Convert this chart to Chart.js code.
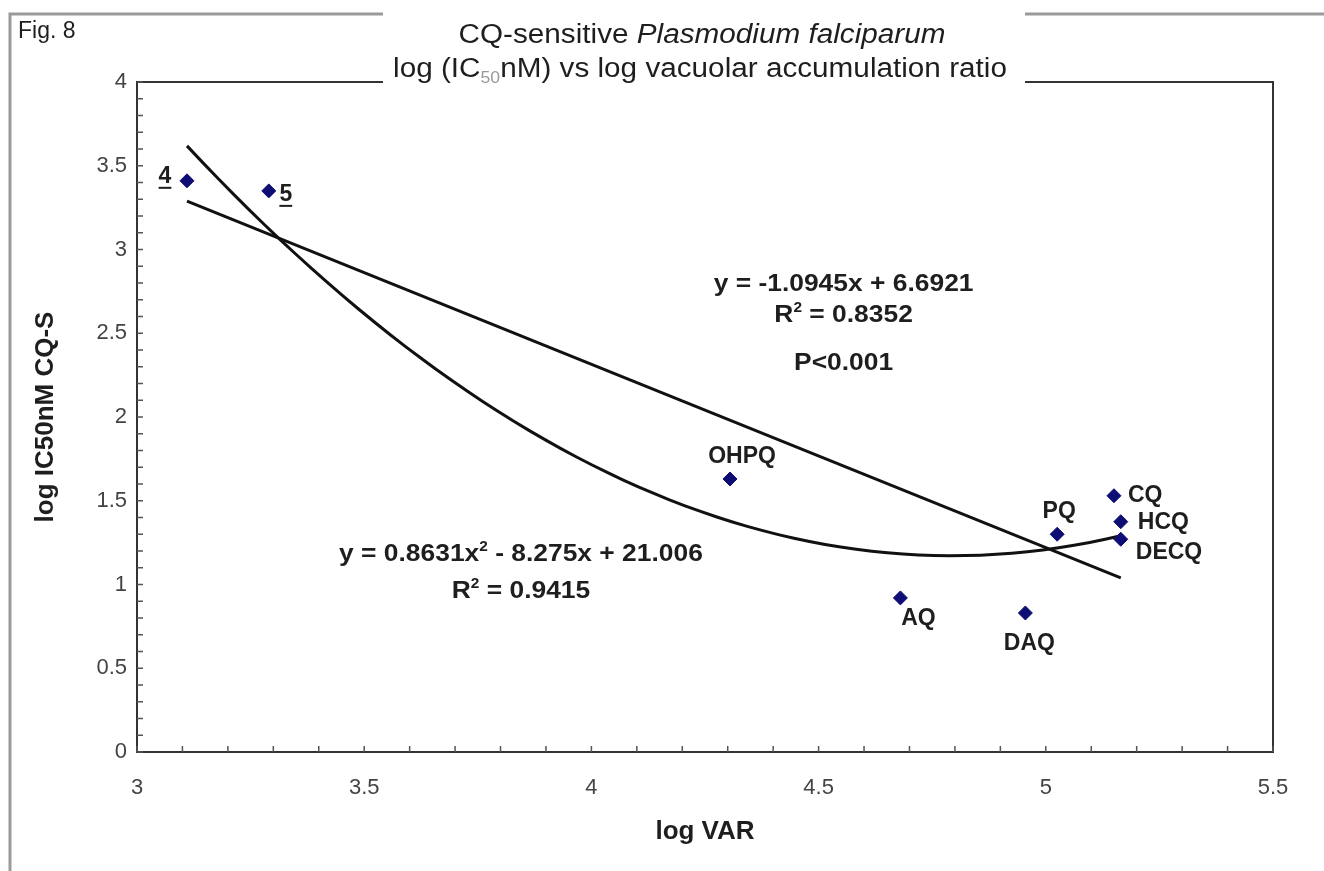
<!DOCTYPE html>
<html>
<head>
<meta charset="utf-8">
<script src="https://cdn.jsdelivr.net/npm/chart.js@4.4.1/dist/chart.umd.min.js"></script>
<style>
  html, body { margin: 0; padding: 0; background: #fff; }
  #wrap { width: 1324px; height: 871px; position: relative; }
</style>
</head>
<body>
<div id="wrap"><canvas id="myChart"></canvas></div>
<script>
// data
const compounds = ['4', '5', 'OHPQ', 'AQ', 'DAQ', 'PQ', 'CQ', 'HCQ', 'DECQ'];
const logVAR = [3.11, 3.29, 4.305, 4.68, 4.955, 5.025, 5.15, 5.165, 5.165];
const logIC50 = [3.41, 3.35, 1.63, 0.92, 0.83, 1.30, 1.53, 1.375, 1.27];

// trendline coefficients as printed on the chart
const linFit = [-1.0945, 6.6921];
const quadFit = [0.8631, -8.275, 21.006];

const xTicks = [3, 3.5, 4, 4.5, 5, 5.5];
const yTicks = [0, 0.5, 1, 1.5, 2, 2.5, 3, 3.5, 4];

// label placement next to each marker (px offset, text align)
const labelPos = [
  [-22, -4, 'center'], [17, 4, 'center'], [12, -22, 'center'], [18, 21, 'center'],
  [4, 31, 'center'], [2, -23, 'center'], [14, 0, 'left'], [17, 1, 'left'], [15, 13, 'left']
];

const FONT = '"Liberation Sans", Arial, sans-serif';
const INK = '#1e1e1e';

const points = logVAR.map((x, i) => ({ x: x, y: logIC50[i] }));
const xMin = Math.min(...logVAR), xMax = Math.max(...logVAR);

const linLine = [xMin, xMax].map(x => ({ x: x, y: linFit[0] * x + linFit[1] }));
const quadLine = [];
for (let i = 0; i <= 60; i++) {
  const x = xMin + (xMax - xMin) * i / 60;
  quadLine.push({ x: x, y: quadFit[0] * x * x + quadFit[1] * x + quadFit[2] });
}

// draws a row of text runs (mixed fonts) with a slight horizontal stretch
function drawRuns(ctx, runs, x, y, align, sx) {
  ctx.save();
  ctx.textBaseline = 'alphabetic';
  ctx.textAlign = 'left';
  let total = 0;
  runs.forEach(r => { ctx.font = r.font; r.w = ctx.measureText(r.t).width; total += r.w; });
  ctx.translate(x, y);
  ctx.scale(sx, 1);
  let cx = align === 'center' ? -total / 2 : 0;
  runs.forEach(r => {
    ctx.font = r.font;
    ctx.fillStyle = r.color || INK;
    ctx.fillText(r.t, cx, r.dy || 0);
    cx += r.w;
  });
  ctx.restore();
}

const frames = {
  id: 'frames',
  beforeDatasetsDraw(chart) {
    const { ctx, chartArea: a, scales: { x, y } } = chart;
    ctx.save();
    // outer figure frame
    ctx.strokeStyle = '#9a9a9a';
    ctx.lineWidth = 3;
    ctx.beginPath();
    ctx.moveTo(1324, 14); ctx.lineTo(10, 14); ctx.lineTo(10, 871);
    ctx.stroke();
    // plot area box
    ctx.strokeStyle = '#333';
    ctx.lineWidth = 2;
    ctx.strokeRect(a.left, a.top, a.right - a.left, a.bottom - a.top);
    // inward minor ticks every 0.1
    ctx.lineWidth = 1.5;
    ctx.strokeStyle = '#555';
    ctx.beginPath();
    for (let k = 30; k <= 55; k++) {
      const px = x.getPixelForValue(k / 10);
      ctx.moveTo(px, a.bottom); ctx.lineTo(px, a.bottom - 6);
    }
    for (let k = 0; k <= 40; k++) {
      const py = y.getPixelForValue(k / 10);
      ctx.moveTo(a.left, py); ctx.lineTo(a.left + 6, py);
    }
    ctx.stroke();
    ctx.restore();
  },
  afterDraw(chart) {
    const { ctx, scales: { x, y } } = chart;
    const meta = chart.getDatasetMeta(0);

    // title box breaks the frames
    ctx.save();
    ctx.fillStyle = '#fff';
    ctx.fillRect(383, 0, 642, 92);
    ctx.restore();

    const tN = '27px ' + FONT, tI = 'italic 27px ' + FONT;
    drawRuns(ctx, [{ t: 'CQ-sensitive ', font: tN }, { t: 'Plasmodium falciparum', font: tI }], 702, 43, 'center', 1.1);
    drawRuns(ctx, [
      { t: 'log (IC', font: tN },
      { t: '50', font: '16px ' + FONT, dy: 6, color: '#9a9a9a' },
      { t: 'nM) vs log vacuolar accumulation ratio', font: tN }
    ], 700, 77, 'center', 1.1);
    drawRuns(ctx, [{ t: 'Fig. 8', font: '23px ' + FONT }], 18, 38, 'left', 1);

    // trendline equations
    const aB = 'bold 24px ' + FONT, sup = 'bold 14px ' + FONT;
    const cx1 = x.getPixelForValue(4.555);
    drawRuns(ctx, [{ t: 'y = -1.0945x + 6.6921', font: aB }], cx1, y.getPixelForValue(2.75), 'center', 1.1);
    drawRuns(ctx, [{ t: 'R', font: aB }, { t: '2', font: sup, dy: -10 }, { t: ' = 0.8352', font: aB }],
      cx1, y.getPixelForValue(2.57), 'center', 1.1);
    drawRuns(ctx, [{ t: 'P<0.001', font: aB }], cx1, y.getPixelForValue(2.28), 'center', 1.1);

    const cx2 = x.getPixelForValue(3.845);
    drawRuns(ctx, [{ t: 'y = 0.8631x', font: aB }, { t: '2', font: sup, dy: -10 },
      { t: ' - 8.275x + 21.006', font: aB }], cx2, y.getPixelForValue(1.14), 'center', 1.1);
    drawRuns(ctx, [{ t: 'R', font: aB }, { t: '2', font: sup, dy: -10 }, { t: ' = 0.9415', font: aB }],
      cx2, y.getPixelForValue(0.92), 'center', 1.1);

    // compound labels
    ctx.save();
    ctx.font = 'bold 23px ' + FONT;
    ctx.fillStyle = INK;
    ctx.textBaseline = 'middle';
    meta.data.forEach((pt, i) => {
      const [dx, dy, al] = labelPos[i];
      ctx.textAlign = al;
      const tx = pt.x + dx, ty = pt.y + dy;
      ctx.fillText(compounds[i], tx, ty);
      if (i < 2) {
        const w = ctx.measureText(compounds[i]).width;
        ctx.fillRect(tx - w / 2, ty + 10, w, 2);
      }
    });
    ctx.restore();
  }
};

const tickFont = { family: FONT, size: 22 };

new Chart(document.getElementById('myChart'), {
  type: 'scatter',
  data: {
    datasets: [{
      label: 'compounds',
      data: points,
      pointStyle: 'rectRot',
      pointRadius: 7,
      backgroundColor: '#0d0d74',
      borderColor: '#0d0d74',
      borderWidth: 1
    }, {
      label: 'linear',
      data: linLine,
      showLine: true,
      pointRadius: 0,
      borderColor: '#111',
      borderWidth: 3
    }, {
      label: 'poly',
      data: quadLine,
      showLine: true,
      pointRadius: 0,
      borderColor: '#111',
      borderWidth: 3,
      tension: 0
    }]
  },
  options: {
    responsive: true,
    maintainAspectRatio: false,
    animation: false,
    layout: { padding: { left: 0, top: 82, right: 51, bottom: 0 } },
    plugins: {
      legend: { display: false },
      tooltip: { enabled: false }
    },
    scales: {
      x: {
        type: 'linear',
        min: 3, max: 5.5,
        afterBuildTicks: s => { s.ticks = xTicks.map(v => ({ value: v })); },
        afterFit: s => { s.height = 119; },
        grid: { display: false },
        border: { display: false },
        ticks: { font: tickFont, color: '#444', padding: 15, maxRotation: 0, callback: v => String(v) },
        title: { display: true, text: 'log VAR', color: INK, font: { family: FONT, size: 26, weight: 'bold' }, padding: { top: 0, bottom: 24 } }
      },
      y: {
        type: 'linear',
        min: 0, max: 4,
        afterBuildTicks: s => { s.ticks = yTicks.map(v => ({ value: v })); },
        afterFit: s => { s.width = 137; },
        grid: { display: false },
        border: { display: false },
        ticks: { font: tickFont, color: '#444', padding: 2, callback: v => String(v) },
        title: { display: true, text: 'log IC50nM CQ-S', color: INK, font: { family: FONT, size: 26, weight: 'bold' }, padding: { top: 30, bottom: 0 } }
      }
    }
  },
  plugins: [frames]
});
</script>
</body>
</html>
